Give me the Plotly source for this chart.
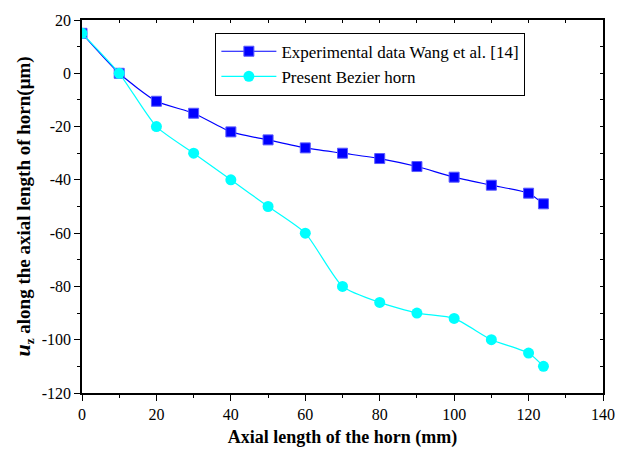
import plotly.graph_objects as go

x_exp = [0, 10, 20, 30, 40, 50, 60, 70, 80, 90, 100, 110, 120, 124]
y_exp = [15, 0, -10.5, -15, -22, -25, -28, -30, -32, -35, -39, -42, -45, -49]
x_bez = [0, 10, 20, 30, 40, 50, 60, 70, 80, 90, 100, 110, 120, 124]
y_bez = [15, 0, -20, -30, -40, -50, -60, -80, -86, -90, -92, -100, -105, -110]

x_tickvals = [0, 20, 40, 60, 80, 100, 120, 140]
x_ticktext = ["0", "20", "40", "60", "80", "100", "120", "140"]
y_tickvals = [20, 0, -20, -40, -60, -80, -100, -120]
y_ticktext = ["20", "0", "-20", "-40", "-60", "-80", "-100", "-120"]

name_exp = "Experimental data Wang et al. [14]"
name_bez = "Present Bezier horn"

font_family = "'Liberation Serif', 'Times New Roman', serif"

fig = go.Figure()
fig.add_trace(go.Scatter(
    x=x_exp, y=y_exp, name=name_exp, mode="lines+markers",
    line=dict(color="#0000ff", width=1.2, shape="spline", smoothing=0.6),
    marker=dict(symbol="square", size=10, color="#0000ff",
                line=dict(color="#5a5aff", width=1)),
))
fig.add_trace(go.Scatter(
    x=x_bez, y=y_bez, name=name_bez, mode="lines+markers",
    line=dict(color="#00ffff", width=1.2, shape="spline", smoothing=0.6),
    marker=dict(symbol="circle", size=11, color="#00ffff"),
))
# invisible trace to anchor mirror axes (top/right inside ticks)
fig.add_trace(go.Scatter(x=[None], y=[None], xaxis="x2", yaxis="y2",
                         showlegend=False, hoverinfo="skip"))

xr = [0, 140]
yr = [-120, 20]

fig.update_layout(
    width=627, height=456,
    margin=dict(l=82, r=14, t=20, b=58),
    paper_bgcolor="white", plot_bgcolor="white",
    font=dict(family=font_family, size=15, color="black"),
    showlegend=True,
    legend=dict(
        x=0.256, y=0.966, xanchor="left", yanchor="top",
        bgcolor="white", bordercolor="black", borderwidth=1,
        font=dict(family=font_family, size=17, color="black"),
        tracegroupgap=0, itemwidth=55,
    ),
    xaxis=dict(
        range=xr, tickmode="array", tickvals=x_tickvals, ticktext=x_ticktext,
        showgrid=False, zeroline=False,
        showline=True, linecolor="black", linewidth=1.5, mirror=True,
        ticks="outside", ticklen=6, tickwidth=1.2, tickcolor="black",
        minor=dict(dtick=10, tick0=0, ticks="outside", ticklen=3, tickcolor="black", tickwidth=1),
        tickfont=dict(family=font_family, size=16),
        title=dict(text="<b>Axial length of the horn (mm)</b>",
                   font=dict(family=font_family, size=18), standoff=8),
    ),
    yaxis=dict(
        range=yr, tickmode="array", tickvals=y_tickvals, ticktext=y_ticktext,
        showgrid=False, zeroline=False,
        showline=True, linecolor="black", linewidth=1.5, mirror=True,
        ticks="outside", ticklen=6, tickwidth=1.2, tickcolor="black",
        minor=dict(dtick=10, tick0=0, ticks="outside", ticklen=3, tickcolor="black", tickwidth=1),
        tickfont=dict(family=font_family, size=16),
        title=dict(text="<b><i><span style='font-size:22px'>u</span></i><sub>z</sub> along the axial length of horn(μm)</b>",
                   font=dict(family=font_family, size=19), standoff=6),
    ),
    xaxis2=dict(
        range=xr, overlaying="x", side="top", anchor="y2", dtick=20, tick0=0,
        showgrid=False, zeroline=False, showline=False, showticklabels=False,
        ticks="inside", ticklen=3, tickwidth=1, tickcolor="black",
        minor=dict(dtick=10, ticks="inside", ticklen=3, tickcolor="black"),
    ),
    yaxis2=dict(
        range=yr, overlaying="y", side="right", anchor="x2", dtick=20, tick0=0,
        showgrid=False, zeroline=False, showline=False, showticklabels=False,
        ticks="inside", ticklen=3, tickwidth=1, tickcolor="black",
        minor=dict(dtick=10, ticks="inside", ticklen=3, tickcolor="black"),
    ),
)

fig.write_html("out.html")
